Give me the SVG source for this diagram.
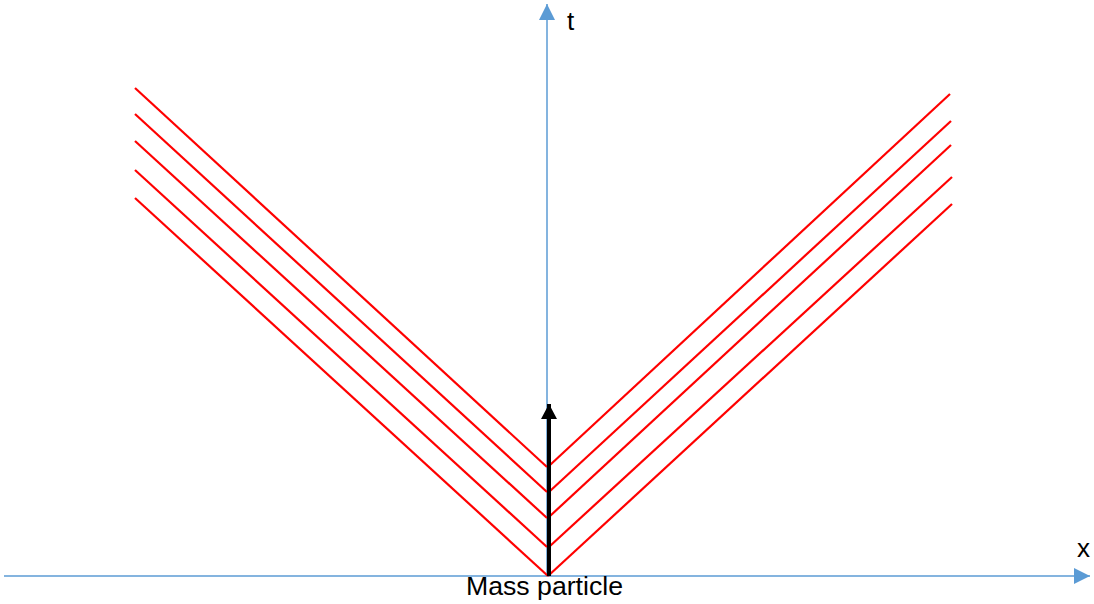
<svg xmlns="http://www.w3.org/2000/svg" width="1094" height="604" viewBox="0 0 1094 604">
<style>
.axis{stroke:#5B9BD5;stroke-width:1.5;fill:none}
.ray{stroke:#FF0000;stroke-width:2.2;fill:none}
.lbl{font-family:"Liberation Sans",Arial,sans-serif;font-size:26px;fill:#000}
</style>
<defs>
<marker id="blueArrow" markerUnits="userSpaceOnUse" markerWidth="16" markerHeight="16" refX="16" refY="8" orient="auto">
<path d="M0,0 L16,8 L0,16 Z" fill="#5B9BD5"/>
</marker>
<marker id="blackArrow" markerUnits="userSpaceOnUse" markerWidth="16" markerHeight="16" refX="15" refY="8" orient="auto">
<path d="M0,0 L15,8 L0,16 Z" fill="#000"/>
</marker>
</defs>
<g id="connectors">
<line id="x-axis" class="axis" x1="4" y1="576" x2="1090" y2="576" marker-end="url(#blueArrow)"/>
<line id="t-axis" class="axis" x1="547" y1="576" x2="547" y2="4" marker-end="url(#blueArrow)"/>
<g id="left-rays">
<line class="ray" x1="135" y1="88" x2="547" y2="467"/>
<line class="ray" x1="135" y1="114" x2="547" y2="492"/>
<line class="ray" x1="135" y1="141" x2="547" y2="518"/>
<line class="ray" x1="135" y1="170" x2="547" y2="547"/>
<line class="ray" x1="135" y1="198" x2="548" y2="576"/>
</g>
<g id="right-rays">
<line class="ray" x1="550" y1="465" x2="950" y2="94"/>
<line class="ray" x1="550" y1="491" x2="951" y2="121"/>
<line class="ray" x1="550" y1="516" x2="951" y2="145"/>
<line class="ray" x1="550" y1="546" x2="952" y2="177"/>
<line class="ray" x1="548" y1="576" x2="952" y2="204"/>
</g>
<line id="worldline" x1="549" y1="576" x2="549" y2="404" stroke="#000" stroke-width="4" marker-end="url(#blackArrow)"/>
</g>
<g id="label-t"><text class="lbl" x="567" y="30">t</text></g>
<g id="label-x"><text class="lbl" x="1077" y="557">x</text></g>
<g id="label-mass"><text class="lbl" x="466" y="595" textLength="157" lengthAdjust="spacingAndGlyphs">Mass particle</text></g>
</svg>
